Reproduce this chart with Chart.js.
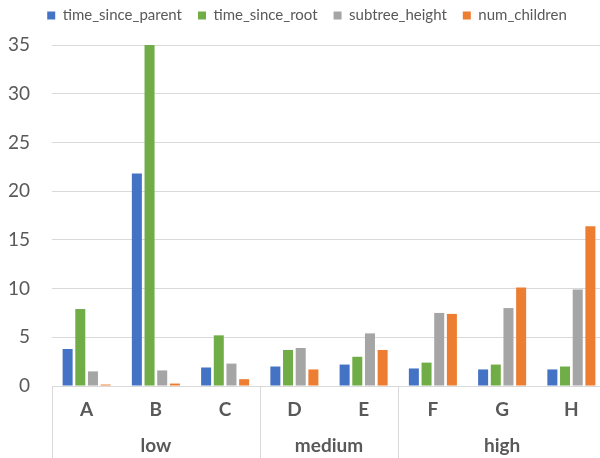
<!DOCTYPE html>
<html lang="en">
  <head>
    <meta charset="UTF-8" />
    <title>Tree stats by category</title>
    <style>
      body {
        margin: 0;
        padding: 0;
        overflow: hidden;
        background: #fff;
      }
      .chart-container {
        width: 616px;
        height: 458px;
      }
    </style>
  </head>
  <body>
    <div class="chart-container">
      <canvas id="treeChart" width="616" height="458"></canvas>
    </div>

    <script src="https://cdn.jsdelivr.net/npm/chart.js"></script>
    <script>
      const categories = ["A", "B", "C", "D", "E", "F", "G", "H"];
      const groupLabels = ["low", "medium", "high"];
      const groupSizes = [3, 2, 3];

      const timeSinceParent = [3.8, 21.8, 1.9, 2.0, 2.2, 1.8, 1.7, 1.7];
      const timeSinceRoot = [7.9, 35, 5.2, 3.7, 3.0, 2.4, 2.2, 2.0];
      const subtreeHeight = [1.5, 1.6, 2.3, 3.9, 5.4, 7.5, 8.0, 9.9];
      const numChildren = [0.15, 0.25, 0.7, 1.7, 3.7, 7.4, 10.1, 16.4];

      const yTicks = [0, 5, 10, 15, 20, 25, 30, 35];

      const FONT = "Lato, 'Open Sans', sans-serif";
      const TEXT = "#595959";
      const GRID = "#d9d9d9";

      // fixed legend height so the plot starts where the original does
      const legendSpace = {
        id: "legendSpace",
        beforeInit(chart) {
          const fit = chart.legend.fit;
          chart.legend.fit = function () {
            fit.call(this);
            this.height = 53;
          };
        },
      };

      // second row of x labels (low / medium / high) with separators
      const groupAxis = {
        id: "groupAxis",
        afterDraw(chart) {
          const x = chart.scales.x;
          const ctx = chart.ctx;
          const bottom = chart.chartArea.bottom;
          const half = (x.getPixelForValue(1) - x.getPixelForValue(0)) / 2;
          ctx.save();
          ctx.strokeStyle = GRID;
          ctx.lineWidth = 1;
          ctx.fillStyle = TEXT;
          ctx.font = "bold 19px " + FONT;
          ctx.textAlign = "center";
          ctx.textBaseline = "middle";
          let start = 0;
          const edges = [0];
          groupSizes.forEach((size, i) => {
            const end = start + size - 1;
            const cx = (x.getPixelForValue(start) + x.getPixelForValue(end)) / 2;
            ctx.fillText(groupLabels[i], cx, bottom + 60);
            start += size;
            edges.push(start);
          });
          edges.forEach((e) => {
            const px = Math.round(x.getPixelForValue(e) - half) + 0.5;
            ctx.beginPath();
            ctx.moveTo(px, bottom);
            ctx.lineTo(px, chart.height);
            ctx.stroke();
          });
          ctx.restore();
        },
      };

      const ctx = document.getElementById("treeChart").getContext("2d");

      new Chart(ctx, {
        type: "bar",
        data: {
          labels: categories,
          datasets: [
            {
              label: "time_since_parent",
              data: timeSinceParent,
              backgroundColor: "#4472C4",
            },
            {
              label: "time_since_root",
              data: timeSinceRoot,
              backgroundColor: "#70AD47",
            },
            {
              label: "subtree_height",
              data: subtreeHeight,
              backgroundColor: "#A5A5A5",
            },
            {
              label: "num_children",
              data: numChildren,
              backgroundColor: "#ED7D31",
            },
          ],
        },
        options: {
          responsive: false,
          animation: false,
          devicePixelRatio: 1,
          categoryPercentage: 0.732,
          barPercentage: 0.79,
          layout: {
            padding: { left: 8, right: 10, top: -8, bottom: 37 },
          },
          scales: {
            x: {
              grid: { display: false, drawTicks: false },
              border: { color: GRID },
              afterFit: (axis) => {
                axis.height = 35;
              },
              ticks: {
                color: TEXT,
                padding: 12,
                font: { family: FONT, size: 19, weight: "bold" },
                maxRotation: 0,
              },
            },
            y: {
              min: 0,
              max: 35,
              afterBuildTicks: (axis) => {
                axis.ticks = yTicks.map((v) => ({ value: v }));
              },
              afterFit: (axis) => {
                axis.width = 44;
              },
              grid: { color: GRID, drawTicks: false },
              border: { display: false },
              ticks: {
                color: TEXT,
                padding: 22,
                font: { family: FONT, size: 19 },
              },
            },
          },
          plugins: {
            legend: {
              position: "top",
              labels: {
                color: TEXT,
                boxWidth: 8,
                boxHeight: 8,
                padding: 16,
                font: { family: FONT, size: 15 },
              },
            },
            tooltip: { enabled: false },
          },
        },
        plugins: [legendSpace, groupAxis],
      });
    </script>
  </body>
</html>
